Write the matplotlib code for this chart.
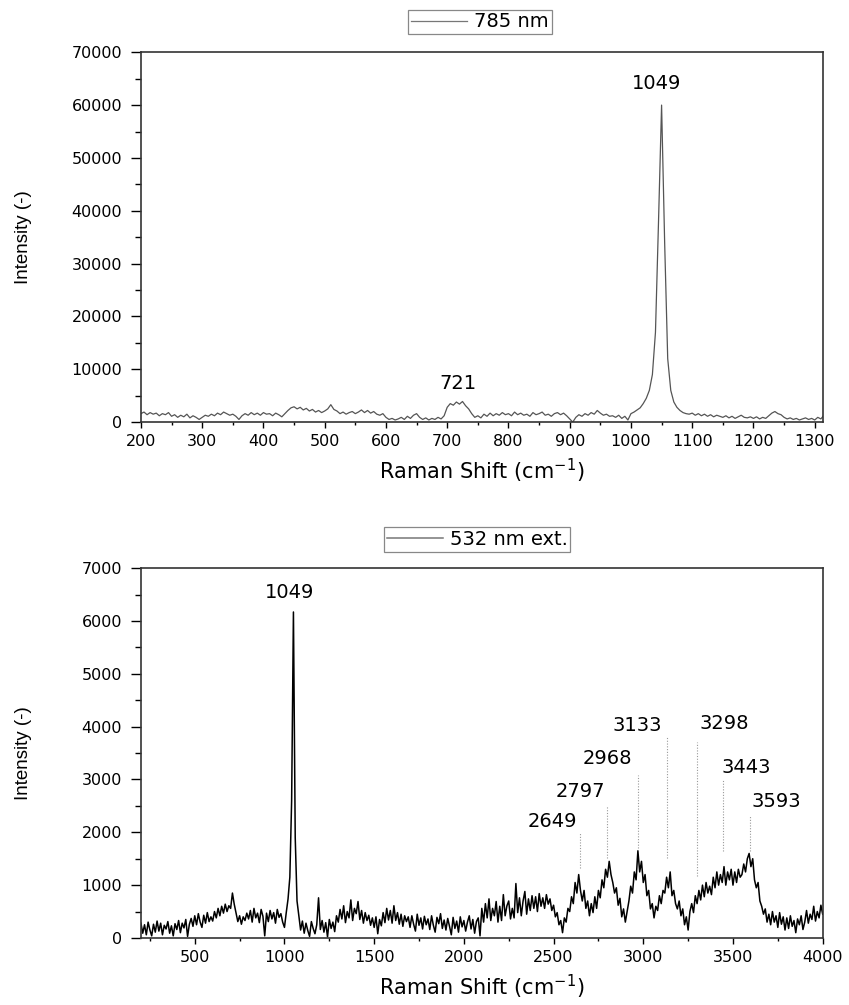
import numpy as np
import matplotlib
matplotlib.use("Agg")
import matplotlib.pyplot as plt
from matplotlib.ticker import MultipleLocator

plt.rcParams['font.family'] = ['DejaVu Sans']

# 785 nm spectrum, 5 cm-1 step from 200 to 1315
top_start, top_step = 200, 5
top_y = [
    1600, 1900, 1400, 1800, 1500, 1700, 1200, 1600, 1400, 1800,
    1100, 1400, 900, 1300, 1000, 1500, 800, 1200, 900, 500,
    900, 1300, 1100, 1500, 1200, 1700, 1400, 1900, 1600, 1300,
    1500, 1100, 500, 1200, 1600, 1300, 1800, 1400, 1700, 1300,
    1800, 1500, 1600, 1200, 1700, 1400, 1000, 1600, 2200, 2700,
    2900, 2500, 2800, 2300, 2600, 2100, 2400, 1900, 2200, 1800,
    2100, 2500, 3300, 2400, 2100, 1600, 1900, 1500, 1800, 2000,
    1600, 1900, 2300, 1800, 2200, 1700, 2000, 1500, 1300, 1600,
    900, 500, 700, 400, 600, 900, 500, 1100, 700, 1300,
    1600, 900, 500, 800, 400, 700, 500, 900, 600, 1200,
    2800, 3500, 3200, 3800, 3400, 3900, 3100, 2500, 1600, 900,
    1200, 800, 1500, 1100, 1700, 1200, 1600, 1300, 1800, 1400,
    1600, 1200, 1900, 1400, 1700, 1300, 1500, 1100, 1800, 1400,
    1600, 1900, 1300, 1500, 1100, 1600, 1800, 1400, 1700, 1200,
    600, 0, 900, 1400, 1100, 1600, 1300, 1800, 1500, 2200,
    1700, 1300, 1500, 1100, 1200, 900, 1300, 700, 1100, 400,
    1600, 1900, 2300, 2700, 3500, 4500, 6000, 9000, 17000, 38000,
    60000, 34000, 12000, 6000, 3800, 2800, 2200, 1800, 1600, 1500,
    1700, 1300, 1600, 1200, 1500, 1100, 1400, 1000, 1300, 1100,
    900, 1200, 800, 1100, 700, 1000, 1300, 900, 800, 1000,
    700, 1000, 600, 900, 700, 1200, 1700, 2000, 1600, 1400,
    900, 600, 800, 500, 700, 400, 600, 800, 500, 700,
    400, 900, 600, 1300,
]

# 532 nm ext. spectrum, 10 cm-1 step from 200 to 4000
bot_start, bot_step = 200, 10
bot_y = [
    280, 90, 250, 60, 300, 150, 40, 260, 110, 320,
    130, 280, 60, 240, 170, 310, 90, 230, 40, 270,
    160, 330, 100, 280, 190, 350, 30, 260, 370, 220,
    420, 250, 460, 300, 200, 430, 280, 480, 310, 400,
    320, 500, 380, 560, 420, 600, 470, 640, 500, 610,
    560, 850, 640, 480, 310, 420, 260, 400, 330, 470,
    360, 520, 300, 560, 380, 470, 290, 540, 410, 40,
    470, 310, 520, 360, 480, 280, 540, 390, 460, 300,
    200, 480, 740, 1150, 2600, 6170, 1900, 700, 420, 150,
    320, 90, 280, 140, 30, 310, 180, 80, 250, 760,
    160, 330, 110, 290, 20, 350, 180, 300, 120, 420,
    300, 540, 360, 610, 290, 500, 380, 720, 330, 560,
    460, 690, 350, 520, 280, 480, 330, 430, 240, 380,
    200, 400, 80, 350, 230, 480, 290, 560, 340, 520,
    280, 610, 330, 480, 260, 450, 220, 420, 310, 400,
    200, 420, 260, 130, 450, 240, 380, 170, 410, 250,
    360, 160, 420, 240, 110, 390, 270, 460, 180, 340,
    150, 370, 220, 60, 390, 180, 320, 110, 400, 210,
    330, 130, 300, 420, 170, 350, 90, 310, 380, 40,
    560, 300, 650, 380, 740, 330, 560, 420, 690, 300,
    600, 330, 820, 420, 610, 700, 360, 560, 380, 1030,
    480, 760, 420, 700, 880, 450, 740, 520, 800, 560,
    780, 500, 840, 600, 760, 560, 820, 640, 740, 520,
    620, 400, 480, 250, 330, 100, 380, 300, 560, 500,
    780, 650, 1050, 850, 1200, 900, 700, 900, 560, 700,
    420, 650, 480, 780, 560, 900, 760, 1100, 950, 1300,
    1150, 1450, 1200, 1050, 850, 950, 620, 750, 400, 550,
    300, 500, 700, 980, 850, 1250, 1100, 1650, 1250, 1450,
    1050, 1200, 800, 900, 550, 650, 380, 600, 520, 800,
    650, 900, 850, 1150, 950, 1250, 800, 900, 650, 550,
    700, 420, 550, 250, 400, 150, 500, 650, 480, 800,
    650, 900, 720, 1000, 780, 1050, 850, 980, 820, 1150,
    950, 1250, 1000, 1200, 1050, 1350, 1000, 1250, 1100, 1300,
    1000, 1250, 1050, 1300, 1150, 1200, 1400, 1250, 1500, 1600,
    1350, 1500, 1100, 950, 1050, 700, 600, 450, 550, 300,
    450, 250, 500, 300, 420, 200, 480, 260, 400, 150,
    380, 180, 420, 220, 330, 100, 360, 250, 420, 160,
    300, 520, 280, 450, 350, 600, 320, 500, 380, 620,
    450,
]

top_x = top_start + top_step * np.arange(len(top_y))
bot_x = bot_start + bot_step * np.arange(len(bot_y))

# peak labels
top_labels = [("1049", 1042, 64000), ("721", 717, 7400)]
bot_main = ("1049", 1028, 6534)
bot_peaks = ["2649", "2797", "2968", "3133", "3298", "3443", "3593"]
bot_line_lo = [1320, 1510, 1700, 1510, 1170, 1640, 1640]
bot_line_hi = [2010, 2490, 3080, 3810, 3700, 2990, 2330]
bot_text_x = [2495, 2650, 2801, 2968, 3453, 3572, 3739]
bot_text_y = [2200, 2780, 3400, 4016, 4067, 3223, 2581]

fig = plt.figure(figsize=(8.49, 10.05), dpi=100)
ax1 = fig.add_axes([0.166, 0.580, 0.803, 0.368])
ax2 = fig.add_axes([0.166, 0.0667, 0.803, 0.368])

ax1.plot(top_x, top_y, color='#555555', lw=0.9, label='785 nm')
ax2.plot(bot_x, bot_y, color='black', lw=1.1, label='532 nm ext.')

for t, x, y in top_labels:
    ax1.text(x, y, t, ha='center', va='center', fontsize=14)
ax2.text(bot_main[1], bot_main[2], bot_main[0], ha='center', va='center', fontsize=14)
for i, p in enumerate(bot_peaks):
    px = float(p)
    ax2.plot([px, px], [bot_line_lo[i], bot_line_hi[i]], color='#999999',
             lw=0.8, ls=(0, (1, 1.5)))
    ax2.text(bot_text_x[i], bot_text_y[i], p, ha='center', va='center', fontsize=14)

ax1.set_xlim(200, 1313)
ax1.set_ylim(0, 70000)
ax1.xaxis.set_major_locator(MultipleLocator(100))
ax1.xaxis.set_minor_locator(MultipleLocator(50))
ax1.yaxis.set_major_locator(MultipleLocator(10000))
ax1.yaxis.set_minor_locator(MultipleLocator(5000))

ax2.set_xlim(200, 4000)
ax2.set_ylim(0, 7000)
ax2.xaxis.set_major_locator(MultipleLocator(500))
ax2.xaxis.set_minor_locator(MultipleLocator(250))
ax2.yaxis.set_major_locator(MultipleLocator(1000))
ax2.yaxis.set_minor_locator(MultipleLocator(500))

legend_pos = [(0.497, 1.082), (0.493, 1.077)]
for ax, lp in zip((ax1, ax2), legend_pos):
    ax.tick_params(axis='x', which='major', direction='out', length=4.5, width=1,
                   labelsize=11.5, pad=4)
    ax.tick_params(axis='x', which='minor', direction='out', length=2.5, width=1)
    ax.tick_params(axis='y', which='major', direction='out', length=7.5, width=1,
                   labelsize=11.5, pad=6)
    ax.tick_params(axis='y', which='minor', direction='out', length=4, width=1)
    for s in ax.spines.values():
        s.set_linewidth(1.2)
        s.set_color('#333333')
    ax.set_xlabel('Raman Shift (cm$^{-1}$)', fontsize=15, labelpad=6)
    ax.set_ylabel('Intensity (-)', fontsize=13.5, family='Liberation Sans')
    ax.yaxis.set_label_coords(-0.16, 0.5)
    leg = ax.legend(loc='center', bbox_to_anchor=lp, fancybox=False,
                    edgecolor='#888888', handlelength=2.9, borderpad=0.15,
                    handletextpad=0.35, fontsize=14, framealpha=1, borderaxespad=0)
    leg.get_frame().set_linewidth(0.9)
    for h in leg.get_lines():
        h.set_color('#777777')

fig.savefig('out.png', dpi=100)
